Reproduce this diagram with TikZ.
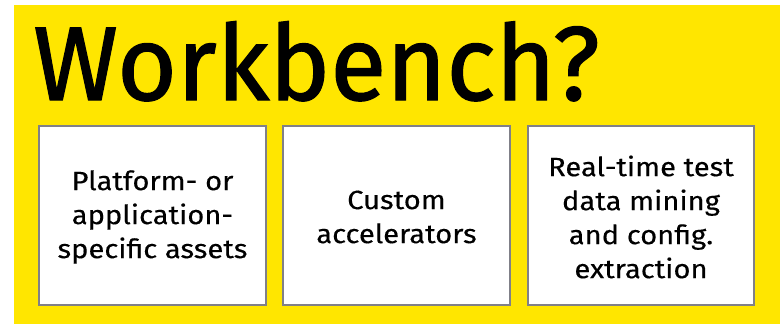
\documentclass[tikz,border=0pt]{standalone}
\usepackage{fontspec}
\setmainfont{Fira Sans}
\newfontfamily\titlefont{Fira Sans}[FakeBold=1.2,FakeStretch=0.978]
\newfontfamily\cardfont{Fira Sans}[FakeStretch=1.1,FakeBold=0.3]
\definecolor{eyyellow}{HTML}{FFE600}
\definecolor{boxgray}{HTML}{808088}
\begin{document}
\begin{tikzpicture}[x=1pt,y=-1pt,
  card/.style={draw=boxgray,line width=2pt,fill=white},
  cardtext/.style={align=center,font=\cardfont\fontsize{26.5}{34}\selectfont,inner sep=0pt},
  titletext/.style={font=\titlefont\fontsize{105}{110}\selectfont,inner sep=0pt,anchor=base west}]
\useasboundingbox (0,0) rectangle (782,324);
\fill[eyyellow] (14,5) rectangle (780,324);
\node[titletext] (title) at (33,100) {Workbench?};
\draw[card] (39,126) rectangle (266,305);
\draw[card] (283,126) rectangle (510,305);
\draw[card] (528,126) rectangle (754,305);
\node[cardtext] (t1) at (152.5,217) {Platform- or\\application-\\specific assets};
\node[cardtext] (t2) at (396.5,217) {Custom\\accelerators};
\node[cardtext] (t3) at (641,217) {Real-time test\\data mining\\and config.\\extraction};
\end{tikzpicture}
\end{document}
